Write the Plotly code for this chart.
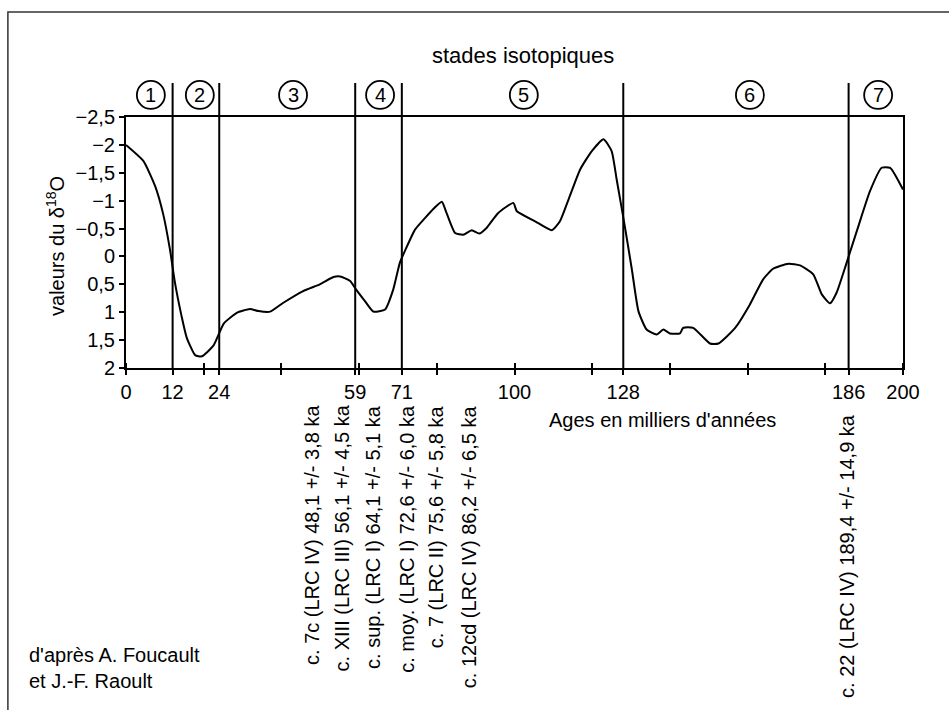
import plotly.graph_objects as go

# ---- data ----
ages = [0, 4.5, 7.5, 9.6, 11.3, 12.6, 14.3, 15.6, 17.8, 19.5, 22.5, 25.2, 28.5, 31.9, 34.1, 37.1,
        40.5, 45.6, 49.9, 53.4, 55.1, 57.7, 59.2, 61.5, 63.7, 66.7, 68.8, 70.5, 71.8, 74.4, 77.0,
        79.1, 81.3, 82.5, 84.7, 86.8, 89.0, 90.9, 92.8, 95.8, 99.7, 100.6, 105.3, 109.6, 111.7,
        113.9, 116.9, 119.9, 122.9, 125.0, 126.3, 128.4, 130.2, 131.9, 134.0, 136.6, 138.3, 140.0,
        142.6, 143.4, 146.0, 150.3, 152.5, 156.8, 160.6, 164.0, 166.6, 170.5, 173.5, 176.9, 179.1,
        181.2, 182.9, 185.5, 188.5, 191.5, 194.5, 196.7, 200.0]
d18o = [-2.0, -1.71, -1.26, -0.75, -0.13, 0.47, 1.07, 1.45, 1.77, 1.79, 1.6, 1.2, 1.01, 0.94, 0.98, 0.99,
        0.83, 0.62, 0.5, 0.37, 0.36, 0.44, 0.59, 0.8, 0.99, 0.95, 0.59, 0.11, -0.1, -0.48, -0.69,
        -0.85, -0.98, -0.78, -0.42, -0.39, -0.47, -0.41, -0.51, -0.78, -0.96, -0.81, -0.63, -0.47, -0.63,
        -1.02, -1.56, -1.89, -2.10, -1.89, -1.38, -0.54, 0.23, 0.98, 1.31, 1.40, 1.31, 1.38,
        1.38, 1.28, 1.28, 1.56, 1.56, 1.28, 0.86, 0.41, 0.22, 0.13, 0.16, 0.32, 0.68,
        0.84, 0.65, 0.11, -0.54, -1.17, -1.59, -1.59, -1.2]

stage_bounds = [12, 24, 59, 71, 128, 186]
stage_labels = ["1", "2", "3", "4", "5", "6", "7"]
stage_label_x = [6.4, 19.0, 43.0, 65.4, 102.4, 160.6, 193.6]

x_tickvals = [0, 12, 20, 24, 40, 59, 60, 71, 80, 100, 120, 128, 140, 160, 180, 186, 200]
x_ticktext = ["0", "12", "", "24", "", "59", "", "71", "", "100", "", "128", "", "", "", "186", "200"]
y_tickvals = [-2.5, -2, -1.5, -1, -0.5, 0, 0.5, 1, 1.5, 2]
y_ticktext = ["−2,5", "−2", "−1,5", "−1", "−0,5", "0", "0,5", "1", "1,5", "2"]

dating_labels = ["c. 7c (LRC IV) 48,1 +/- 3,8 ka",
                 "c. XIII (LRC III) 56,1 +/- 4,5 ka",
                 "c. sup. (LRC I) 64,1 +/- 5,1 ka",
                 "c. moy. (LRC I) 72,6 +/- 6,0 ka",
                 "c. 7 (LRC II) 75,6 +/- 5,8 ka",
                 "c. 12cd (LRC IV) 86,2 +/- 6,5 ka",
                 "c. 22 (LRC IV) 189,4 +/- 14,9 ka"]
dating_label_x = [47.9, 55.6, 63.6, 72.3, 80.0, 88.5, 185.6]
dating_label_y = [-0.139, -0.139, -0.139, -0.139, -0.139, -0.139, -0.175]

FONT = "Liberation Sans, Arial, Helvetica, sans-serif"

fig = go.Figure()
fig.add_trace(go.Scatter(x=ages, y=d18o, mode="lines",
                         line=dict(color="black", width=2, shape="spline", smoothing=0.5),
                         hoverinfo="skip", showlegend=False))

shapes = []
# outer frame (top & left visible)
shapes.append(dict(type="rect", xref="paper", yref="paper", x0=-0.152, x1=1.6, y0=-2.0, y1=1.418,
                   line=dict(color="#333", width=1.5), layer="below"))
for b in stage_bounds:
    shapes.append(dict(type="line", xref="x", yref="paper", x0=b, x1=b, y0=0, y1=1.1355,
                       line=dict(color="black", width=2)))
for cx in stage_label_x:
    shapes.append(dict(type="circle", xref="x", yref="paper", xsizemode="pixel", ysizemode="pixel",
                       xanchor=cx, yanchor=1.088, x0=-14, x1=14, y0=-14, y1=14,
                       line=dict(color="black", width=1.8)))

annotations = []
for cx, t in zip(stage_label_x, stage_labels):
    annotations.append(dict(x=cx, y=1.088, xref="x", yref="paper", text=t, showarrow=False,
                            font=dict(size=20, color="black", family=FONT),
                            xanchor="center", yanchor="middle"))
annotations.append(dict(x=0.511, y=1.247, xref="paper", yref="paper", text="stades isotopiques",
                        showarrow=False, font=dict(size=22, color="black", family=FONT),
                        xanchor="center", yanchor="middle"))
annotations.append(dict(x=-0.0914, y=0.486, xref="paper", yref="paper",
                        text="valeurs du δ<sup>18</sup>O", textangle=-90, showarrow=False,
                        font=dict(size=20, color="black", family=FONT),
                        xanchor="center", yanchor="middle"))
annotations.append(dict(x=0.69, y=-0.207, xref="paper", yref="paper",
                        text="Ages en milliers d'années", showarrow=False,
                        font=dict(size=20, color="black", family=FONT),
                        xanchor="center", yanchor="middle"))
for lx, ly, t in zip(dating_label_x, dating_label_y, dating_labels):
    annotations.append(dict(x=lx, y=ly, xref="x", yref="paper", text=t, textangle=-90,
                            showarrow=False, font=dict(size=20, color="black", family=FONT),
                            xanchor="center", yanchor="top"))
annotations.append(dict(x=-0.1274, y=-1.195, xref="paper", yref="paper",
                        text="d'après A. Foucault<br>et J.-F. Raoult", showarrow=False, align="left",
                        font=dict(size=20, color="black", family=FONT),
                        xanchor="left", yanchor="middle"))

fig.update_layout(
    width=949, height=710,
    margin=dict(l=126, r=46, t=117, b=342),
    paper_bgcolor="white", plot_bgcolor="white",
    shapes=shapes, annotations=annotations,
    font=dict(family=FONT, color="black", size=20),
    xaxis=dict(range=[0, 200], tickvals=x_tickvals, ticktext=x_ticktext,
               showgrid=False, zeroline=False, showline=True, mirror=True,
               linecolor="black", linewidth=2, ticks="outside", ticklen=5, tickwidth=2,
               tickcolor="black", tickfont=dict(size=20, color="black", family=FONT),
               minor=dict(tick0=0, dtick=20, ticks="inside", ticklen=5, tickwidth=2,
                          tickcolor="black", showgrid=False)),
    yaxis=dict(range=[2, -2.5], tickvals=y_tickvals, ticktext=y_ticktext,
               showgrid=False, zeroline=False, showline=True, mirror=True,
               linecolor="black", linewidth=2, ticks="outside", ticklen=5, tickwidth=2,
               tickcolor="black", tickfont=dict(size=20, color="black", family=FONT)),
)

fig.write_html("out.html")
